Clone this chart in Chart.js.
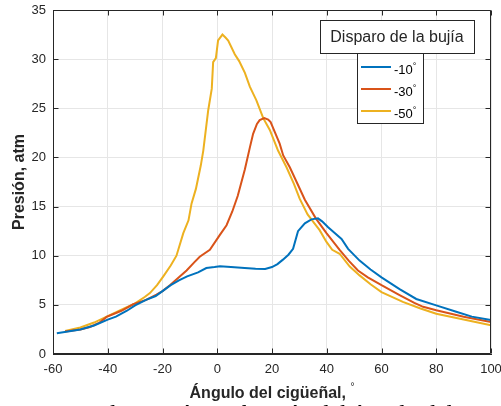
<!DOCTYPE html>
<html>
<head>
<meta charset="utf-8">
<script src="https://cdn.jsdelivr.net/npm/chart.js@4.4.0/dist/chart.umd.min.js"></script>
<style>
  html, body { margin: 0; padding: 0; background: #fff; }
  #presChart { display: block; }
</style>
</head>
<body>
<canvas id="presChart" width="501" height="406"></canvas>
<script>
// Presión en el cilindro según el ángulo del cigüeñal, para tres avances de encendido
const ang10  = [-58.6, -50, -45, -40, -37, -33, -30, -26, -22.5, -20, -17, -14, -11, -7, -4, -1, 1, 5, 10, 14, 17.5, 20, 22, 24, 26, 27.7, 29.5, 32, 34.4, 36.8, 38.3, 40.5, 42.9, 45.4, 47.8, 52, 56, 60, 66.6, 72.7, 80, 87.3, 93, 100];
const pres10 = [2.1, 2.5, 2.9, 3.5, 3.8, 4.4, 4.95, 5.5, 5.9, 6.4, 7.0, 7.5, 7.9, 8.3, 8.75, 8.85, 8.93, 8.85, 8.75, 8.68, 8.66, 8.85, 9.15, 9.6, 10.1, 10.7, 12.5, 13.3, 13.7, 13.8, 13.5, 12.9, 12.3, 11.7, 10.7, 9.5, 8.6, 7.8, 6.6, 5.6, 4.95, 4.3, 3.8, 3.45];

const ang30  = [-55.6, -50, -46.5, -43, -40.4, -35, -30.7, -26, -22.2, -20, -17.3, -14, -11.2, -8.5, -6.4, -2.7, 0.9, 3.4, 5.5, 7.5, 10.1, 11.9, 13.1, 14.5, 15.5, 17.2, 18.6, 19.5, 21, 22.8, 24.1, 26.5, 29, 32, 36, 39.9, 44.7, 48, 51.4, 55, 60, 66.6, 72, 75.2, 80, 90, 100];
const pres30 = [2.3, 2.5, 2.75, 3.2, 3.77, 4.4, 5.06, 5.5, 6.05, 6.4, 7.0, 7.8, 8.5, 9.3, 9.9, 10.6, 12.1, 13.1, 14.5, 16.1, 18.8, 21.0, 22.4, 23.4, 23.8, 24.0, 23.85, 23.6, 22.6, 21.4, 20.2, 19.0, 17.5, 15.7, 13.8, 12.3, 10.6, 9.5, 8.5, 7.8, 7.0, 6.0, 5.2, 4.8, 4.45, 3.8, 3.26];

const ang50  = [-55.6, -50, -45, -40, -35, -30, -26.5, -24.6, -22, -19.7, -17, -14.9, -12.4, -10.5, -9.4, -7.8, -6, -5.1, -3.3, -2, -1.5, -0.5, 0.3, 1.9, 3, 4, 6.4, 8, 10.1, 11.9, 14.3, 16.8, 19.2, 22.2, 25.3, 28, 30.1, 33, 35.5, 37.4, 39.9, 42, 44.7, 48.4, 52, 56, 60, 67.8, 74, 80, 90, 100];
const pres50 = [2.35, 2.7, 3.2, 3.85, 4.5, 5.15, 5.8, 6.2, 7.0, 7.9, 9.0, 10.0, 12.3, 13.6, 15.3, 16.8, 19.2, 20.7, 24.8, 27.0, 29.7, 30.1, 31.9, 32.5, 32.2, 31.9, 30.5, 29.8, 28.6, 27.2, 25.8, 24.0, 22.8, 20.7, 19.0, 17.3, 15.8, 14.2, 13.3, 12.6, 11.4, 10.6, 10.2, 8.9, 8.0, 7.1, 6.3, 5.3, 4.65, 4.1, 3.5, 2.92];

const etiquetas = ['-10°', '-30°', '-50°'];
const colores = ['#0072BD', '#D95319', '#EDB120'];

const xTicks = [-60, -40, -20, 0, 20, 40, 60, 80, 100];
const yTicks = [0, 5, 10, 15, 20, 25, 30, 35];

const ejeColor = '#262626';
const fuente = 'Liberation Sans, Arial, Helvetica, sans-serif';

function puntos(xs, ys) {
    return xs.map((x, i) => ({ x: x, y: ys[i] }));
}

// marco completo, marcas hacia dentro, leyenda con título y textos de ejes
const marco = {
    id: 'marco',
    afterDraw(chart) {
        const ctx = chart.ctx;
        const a = chart.chartArea;
        const sx = chart.scales.x, sy = chart.scales.y;
        const L = Math.round(a.left) + 0.5, R = Math.round(a.right) - 0.5;
        const T = Math.round(a.top) + 0.5, B = Math.round(a.bottom) - 0.5;
        ctx.save();
        ctx.strokeStyle = ejeColor;
        ctx.lineWidth = 1;
        ctx.beginPath();
        ctx.moveTo(L, T); ctx.lineTo(R, T); ctx.lineTo(R, B); ctx.lineTo(L, B); ctx.closePath();
        xTicks.forEach(v => {
            const px = Math.round(sx.getPixelForValue(v)) + 0.5;
            ctx.moveTo(px, T); ctx.lineTo(px, T + 5);
            ctx.moveTo(px, B); ctx.lineTo(px, B - 5);
        });
        yTicks.forEach(v => {
            const py = Math.round(sy.getPixelForValue(v)) + 0.5;
            ctx.moveTo(L, py); ctx.lineTo(L + 5, py);
            ctx.moveTo(R, py); ctx.lineTo(R - 5, py);
        });
        ctx.stroke();

        // leyenda: caja del título y caja de entradas
        ctx.fillStyle = '#fff';
        ctx.fillRect(320, 20, 154, 33);
        ctx.strokeRect(320.5, 20.5, 154, 33);
        ctx.fillStyle = ejeColor;
        ctx.font = '16px ' + fuente;
        ctx.textAlign = 'center';
        ctx.textBaseline = 'alphabetic';
        ctx.fillText('Disparo de la bujía', 397, 42);

        ctx.fillStyle = '#fff';
        ctx.fillRect(357, 53, 66, 70);
        ctx.strokeRect(357.5, 53.5, 66, 70);
        chart.data.datasets.forEach((ds, i) => {
            const y = 67 + i * 22;
            ctx.strokeStyle = ds.borderColor;
            ctx.lineWidth = 2;
            ctx.beginPath();
            ctx.moveTo(361, y); ctx.lineTo(391, y);
            ctx.stroke();
            const txt = ds.label.replace('°', '');
            ctx.fillStyle = '#000';
            ctx.textAlign = 'left';
            ctx.font = '13px ' + fuente;
            ctx.fillText(txt, 394, y + 7);
            const w = ctx.measureText(txt).width;
            ctx.font = '9px ' + fuente;
            ctx.fillText('°', 394 + w, y + 2);
        });

        // título del eje x con el símbolo de grado elevado
        ctx.fillStyle = ejeColor;
        ctx.font = 'bold 16px ' + fuente;
        const tx = 'Ángulo del cigüeñal, ';
        const wx = ctx.measureText(tx).width;
        ctx.font = '10px ' + fuente;
        const wg = ctx.measureText('°').width;
        const x0 = (a.left + a.right) / 2 - (wx + wg) / 2;
        ctx.font = 'bold 16px ' + fuente;
        ctx.textAlign = 'left';
        ctx.fillText(tx, x0, 398);
        ctx.font = '10px ' + fuente;
        ctx.fillText('°', x0 + wx, 390);

        // título del eje y
        ctx.save();
        ctx.translate(24, (a.top + a.bottom) / 2);
        ctx.rotate(-Math.PI / 2);
        ctx.font = 'bold 16px ' + fuente;
        ctx.textAlign = 'center';
        ctx.fillText('Presión, atm', 0, 0);
        ctx.restore();

        // pie de figura (queda cortado por el borde inferior)
        ctx.fillStyle = '#000';
        ctx.font = '24px Liberation Serif, DejaVu Serif, serif';
        ctx.textAlign = 'left';
        ctx.fillText('(b)', -27, 421);
        ctx.fillText('Curvas de presión en función del ángulo del cigüeñal', 30, 421);
        ctx.restore();
    }
};

const ctx = document.getElementById('presChart').getContext('2d');
const presChart = new Chart(ctx, {
    type: 'line',
    data: {
        datasets: [
            { label: etiquetas[0], data: puntos(ang10, pres10), borderColor: colores[0] },
            { label: etiquetas[1], data: puntos(ang30, pres30), borderColor: colores[1] },
            { label: etiquetas[2], data: puntos(ang50, pres50), borderColor: colores[2] }
        ]
    },
    options: {
        responsive: false,
        animation: false,
        devicePixelRatio: 1,
        layout: { padding: { top: 10, right: 10, left: 0, bottom: 0 } },
        elements: {
            point: { radius: 0 },
            line: { borderWidth: 2, tension: 0, fill: false }
        },
        plugins: {
            legend: { display: false },
            tooltip: { enabled: false }
        },
        scales: {
            x: {
                type: 'linear',
                min: -60,
                max: 100,
                afterBuildTicks: s => { s.ticks = xTicks.map(v => ({ value: v })); },
                afterFit: s => { s.height = 52; s.paddingLeft = 0; s.paddingRight = 0; },
                grid: { color: '#e6e6e6', drawTicks: false },
                border: { color: ejeColor },
                ticks: {
                    padding: 8,
                    color: ejeColor,
                    maxRotation: 0,
                    font: { family: fuente, size: 13 }
                }
            },
            y: {
                type: 'linear',
                min: 0,
                max: 35,
                afterBuildTicks: s => { s.ticks = yTicks.map(v => ({ value: v })); },
                afterFit: s => { s.width = 53; s.paddingTop = 0; s.paddingBottom = 0; },
                grid: { color: '#e6e6e6', drawTicks: false },
                border: { color: ejeColor },
                ticks: {
                    padding: 7,
                    color: ejeColor,
                    font: { family: fuente, size: 13 }
                }
            }
        }
    },
    plugins: [marco]
});
</script>
</body>
</html>
